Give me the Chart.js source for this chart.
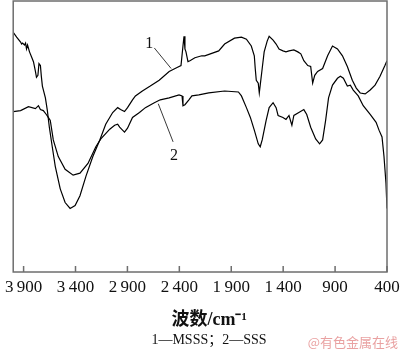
<!DOCTYPE html>
<html lang="zh">
<head>
  <meta charset="UTF-8" />
  <title>红外光谱</title>
  <script src="https://cdn.jsdelivr.net/npm/chart.js"></script>
  <style>
    body { margin: 0; background: #fff; }
    canvas { display: block; }
  </style>
</head>
<body>
  <canvas id="irChart" width="400" height="353"></canvas>

  <script>
    // === Daten ===
    const tickValues = [3900, 3400, 2900, 2400, 1900, 1400, 900, 400];
    const tickLabels = ['3\u2009900', '3\u2009400', '2\u2009900', '2\u2009400', '1\u2009900', '1\u2009400', '900', '400'];

    // 1 - MSSS
    const msssWn = [4000, 3967, 3929, 3919, 3910, 3891, 3881, 3872, 3862, 3843, 3824, 3805, 3786, 3776, 3762, 3752, 3738, 3729, 3719, 3690, 3671, 3652, 3624, 3595, 3547, 3500, 3452, 3404, 3357, 3299, 3233, 3166, 3109, 3042, 2994, 2966, 2928, 2899, 2851, 2823, 2756, 2680, 2594, 2498, 2422, 2384, 2365, 2355, 2346, 2336, 2317, 2298, 2250, 2184, 2155, 2021, 1964, 1869, 1802, 1754, 1707, 1678, 1669, 1659, 1640, 1630, 1621, 1602, 1583, 1554, 1535, 1497, 1468, 1440, 1402, 1373, 1344, 1297, 1259, 1230, 1201, 1163, 1135, 1116, 1096, 1068, 1020, 972, 925, 877, 829, 782, 734, 696, 658, 610, 562, 515, 467, 420, 400];
    const msssT  = [245, 240, 235, 233, 234, 232, 234, 228, 232, 225, 220, 215, 205, 199, 201, 213, 211, 200, 190, 178, 165, 148, 128, 108, 85, 71, 65, 68, 78, 98, 118, 135, 151, 163, 168, 166, 164, 168, 176, 180, 185, 190, 196, 205, 209, 211, 231, 241, 228, 225, 215, 216, 219, 221, 221, 226, 233, 239, 240, 238, 231, 221, 208, 196, 193, 183, 191, 208, 225, 236, 241, 237, 233, 228, 226, 225, 226, 227, 225, 223, 216, 211, 210, 193, 201, 205, 208, 221, 231, 228, 221, 210, 196, 188, 183, 182, 186, 191, 200, 211, 216];

    // 2 - SSS
    const sssWn = [4000, 3929, 3853, 3786, 3757, 3738, 3710, 3681, 3662, 3643, 3614, 3566, 3500, 3423, 3357, 3280, 3204, 3156, 3070, 3023, 2994, 2975, 2947, 2928, 2899, 2851, 2784, 2727, 2641, 2584, 2498, 2403, 2374, 2365, 2346, 2308, 2279, 2212, 2117, 1964, 1831, 1802, 1754, 1716, 1678, 1640, 1621, 1602, 1564, 1535, 1497, 1468, 1449, 1402, 1373, 1344, 1316, 1297, 1249, 1201, 1173, 1135, 1087, 1049, 1020, 991, 963, 925, 877, 849, 820, 782, 753, 725, 677, 629, 562, 505, 477, 448, 429, 410, 400];
    const sssT  = [164, 165, 169, 167, 170, 166, 165, 161, 158, 155, 135, 118, 105, 99, 101, 111, 128, 136, 146, 150, 151, 148, 145, 143, 147, 158, 163, 168, 173, 176, 178, 181, 180, 170, 171, 176, 180, 181, 183, 185, 184, 180, 168, 158, 145, 131, 128, 135, 155, 168, 173, 168, 160, 158, 156, 160, 150, 160, 163, 166, 161, 148, 136, 131, 135, 155, 178, 191, 198, 200, 198, 190, 191, 186, 180, 170, 161, 153, 145, 138, 118, 91, 65];

    const toPoints = (xs, ys) => xs.map((v, i) => ({ x: v, y: ys[i] }));

    const serif = "'Liberation Serif', 'Times New Roman', 'Noto Sans CJK SC', serif";

    // Rahmen, innere Ticks, Kurvenbeschriftung, Legende unten, Wasserzeichen
    const frame = {
      id: 'frame',
      afterDatasetsDraw(chart) {
        const { ctx, chartArea: a, scales: { x, y } } = chart;
        ctx.save();
        ctx.strokeStyle = '#6e6e6e';
        ctx.lineWidth = 1.5;
        ctx.strokeRect(a.left, a.top, a.width, a.height);
        ctx.beginPath();
        tickValues.forEach(v => {
          const px = x.getPixelForValue(v);
          ctx.moveTo(px, a.bottom);
          ctx.lineTo(px, a.bottom - 6);
        });
        ctx.stroke();

        const marks = [
          { text: '1', at: [2689, 233], from: [2641, 229], to: [2479, 208] },
          { text: '2', at: [2451, 119], from: [2603, 172], to: [2460, 133] }
        ];
        ctx.strokeStyle = '#222';
        ctx.lineWidth = 0.9;
        ctx.fillStyle = '#111';
        ctx.font = '16px ' + serif;
        ctx.textAlign = 'center';
        ctx.textBaseline = 'middle';
        marks.forEach(m => {
          ctx.beginPath();
          ctx.moveTo(x.getPixelForValue(m.from[0]), y.getPixelForValue(m.from[1]));
          ctx.lineTo(x.getPixelForValue(m.to[0]), y.getPixelForValue(m.to[1]));
          ctx.stroke();
          ctx.fillText(m.text, x.getPixelForValue(m.at[0]), y.getPixelForValue(m.at[1]));
        });

        ctx.font = '14px ' + serif;
        ctx.fillText('1—MSSS；2—SSS', 209, 340);

        ctx.fillStyle = 'rgba(225,130,130,0.75)';
        ctx.font = "13px 'Noto Sans CJK SC', sans-serif";
        ctx.textAlign = 'right';
        ctx.fillText('@有色金属在线', 398, 342);
        ctx.restore();
      }
    };

    new Chart(document.getElementById('irChart'), {
      type: 'line',
      data: {
        datasets: [
          { label: 'MSSS', data: toPoints(msssWn, msssT), borderColor: '#000', borderWidth: 1.2, pointRadius: 0, tension: 0 },
          { label: 'SSS', data: toPoints(sssWn, sssT), borderColor: '#000', borderWidth: 1.2, pointRadius: 0, tension: 0 }
        ]
      },
      options: {
        responsive: false,
        animation: false,
        layout: { padding: { left: 9, top: 1, right: 0, bottom: 22 } },
        plugins: {
          legend: { display: false },
          tooltip: { enabled: false }
        },
        scales: {
          x: {
            type: 'linear',
            reverse: true,
            min: 400,
            max: 4000,
            grid: { display: false, drawTicks: false },
            border: { display: false },
            afterBuildTicks: s => { s.ticks = tickValues.map(v => ({ value: v })); },
            afterFit: s => { s.paddingRight = 13; },
            ticks: {
              padding: 5,
              color: '#111',
              maxRotation: 0,
              autoSkip: false,
              font: { family: serif, size: 17 },
              callback: v => tickLabels[tickValues.indexOf(v)]
            },
            title: {
              display: true,
              text: '\u2003波数/cm⁻¹',
              color: '#111',
              font: { family: "'Liberation Serif', 'Noto Sans CJK SC', serif", size: 18, weight: 'bold' },
              padding: { top: 7, bottom: 0 }
            }
          },
          y: { display: false, min: 0, max: 277 }
        }
      },
      plugins: [frame]
    });
  </script>
</body>
</html>
